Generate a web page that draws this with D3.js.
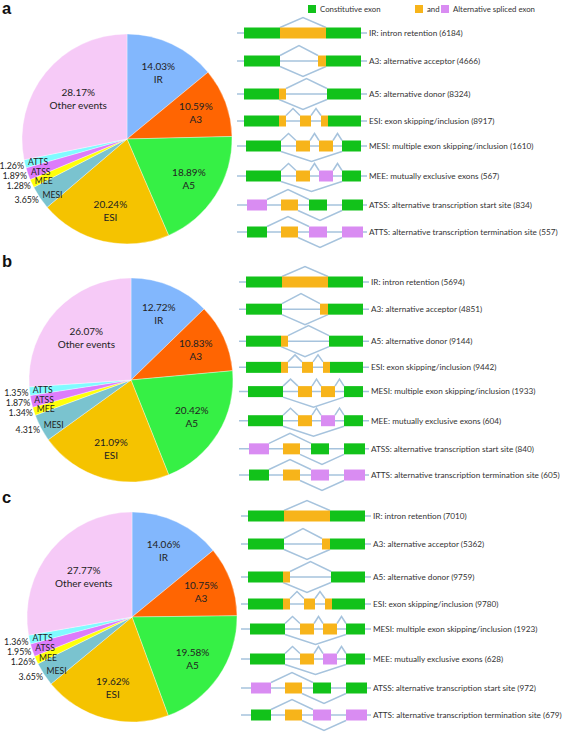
<!DOCTYPE html>
<html><head><meta charset="utf-8">
<script src="https://cdn.jsdelivr.net/npm/d3@7"></script>
<style>html,body{margin:0;padding:0;background:#fff;}svg{display:block;}</style>
</head><body>
<svg id="chart" width="567" height="734"></svg>
<script>
// ---- data ----
const events = ["IR","A3","A5","ESI","MESI","MEE","ATSS","ATTS","Other events"];
const pctA = [14.03,10.59,18.89,20.24,3.65,1.28,1.89,1.26,28.17];
const pctB = [12.72,10.83,20.42,21.09,4.31,1.34,1.87,1.35,26.07];
const pctC = [14.06,10.75,19.58,19.62,3.65,1.26,1.95,1.36,27.77];
const descriptions = ["intron retention","alternative acceptor","alternative donor","exon skipping/inclusion","multiple exon skipping/inclusion","mutually exclusive exons","alternative transcription start site","alternative transcription termination site"];
const countsA = [6184,4666,8324,8917,1610,567,834,557];
const countsB = [5694,4851,9144,9442,1933,604,840,605];
const countsC = [7010,5362,9759,9780,1923,628,972,679];
const panelLetters = ["a","b","c"];
const legendLabels = ["Constitutive exon","and","Alternative spliced exon"];

// ---- styles ----
const sliceColors = ["#82b7fd","#ff6502","#36f045","#f5c300","#7ac3cf","#ffff0a","#dd7cfb","#80fbff","#f6caf7"];
const exonColors = {C:"#12c21a", O:"#f7b41a", P:"#d98cf2"};
const railColor = "#a6c3dd";

// schematic gene models (gene-coordinate units)
const structures = {
  IR:  {exons:[[7,43,"C"],[43,89,"O"],[89,124,"C"]], up:[[43,89]], down:[]},
  A3:  {exons:[[7,43,"C"],[81,89,"O"],[89,124,"C"]], up:[[43,81]], down:[[43,89]]},
  A5:  {exons:[[7,42,"C"],[42,49,"O"],[90,124,"C"]], up:[[49,90]], down:[[42,90]]},
  ESI: {exons:[[7,42,"C"],[42,49,"O"],[63,74,"O"],[84,91,"O"],[91,124,"C"]], up:[[49,63],[74,84]], down:[]},
  MESI:{exons:[[9,44,"C"],[59,73,"O"],[82,96,"O"],[105,124,"C"]], up:[[44,59],[73,82],[96,105]], down:[[44,105]]},
  MEE: {exons:[[9,44,"C"],[59,73,"O"],[82,96,"P"],[105,124,"C"]], up:[[44,59],[73,82],[96,105]], down:[[44,105]]},
  ATSS:{exons:[[10,30,"P"],[44,61,"O"],[72,90,"C"],[105,126,"C"]], up:[[30,72]], down:[[61,105]]},
  ATTS:{exons:[[10,30,"C"],[44,61,"O"],[72,90,"P"],[105,126,"P"]], up:[[30,72]], down:[[61,105]]}
};
const rowOffsets = [0,28,61,88,113,143,172,199];

const panels = [
  {pct:pctA, counts:countsA, cx:127, cy:139, r:105, rowTop:33, rowScale:1, dx:0, letterY:14},
  {pct:pctB, counts:countsB, cx:131, cy:380, r:102, rowTop:282, rowScale:0.97, dx:2, letterY:267},
  {pct:pctC, counts:countsC, cx:132, cy:617, r:105, rowTop:516, rowScale:1, dx:4, letterY:503}
];

const svg = d3.select("#chart");
const font = "Lato, 'Open Sans', sans-serif";
const diagFont = 8.2;
const legendFont = 7.8;

panels.forEach((p, pi) => {
  const g = svg.append("g");
  g.append("text").attr("x",2).attr("y",p.letterY)
    .attr("font-family","'Liberation Sans', Arial, sans-serif").attr("font-weight","bold")
    .attr("font-size",16.5).attr("fill","#111").text(panelLetters[pi]);

  // pie
  const pie = d3.pie().sort(null).value(d => d)(p.pct);
  const arc = d3.arc().innerRadius(0).outerRadius(p.r);
  const pg = g.append("g").attr("transform",`translate(${p.cx},${p.cy})`);
  pg.selectAll("path").data(pie).join("path")
    .attr("d",arc).attr("fill",(d,i)=>sliceColors[i])
    .attr("stroke","#ffffff").attr("stroke-width",0.5).attr("stroke-opacity",0.7);

  pie.forEach((d,i) => {
    const mid = (d.startAngle + d.endAngle)/2;
    const sx = Math.sin(mid), sy = -Math.cos(mid);
    const label = events[i];
    const pctText = d3.format(".2f")(d.data) + "%";
    if (d.data >= 5) {
      const k = label === "Other events" ? 0.6 : 0.7;
      const x = sx*k*p.r, y = sy*k*p.r;
      pg.append("text").attr("x",x).attr("y",y-6.5).attr("dy","0.35em")
        .attr("text-anchor","middle").attr("font-family",font).attr("font-size",10)
        .attr("fill","#222").text(pctText);
      pg.append("text").attr("x",x).attr("y",y+6.5).attr("dy","0.35em")
        .attr("text-anchor","middle").attr("font-family",font).attr("font-size",10)
        .attr("fill","#222").text(label);
    } else {
      pg.append("text").attr("x",sx*0.97*p.r).attr("y",sy*0.97*p.r-1).attr("dy","0.35em")
        .attr("text-anchor","start").attr("font-family",font).attr("font-size",8.6)
        .attr("fill","#222").text(label);
      pg.append("text").attr("x",sx*1.0*p.r-1).attr("y",sy*1.02*p.r+1.5).attr("dy","0.35em")
        .attr("text-anchor","end").attr("font-family",font).attr("font-size",8.8)
        .attr("fill","#222").text(pctText);
    }
  });

  // diagrams
  const xs = d3.scaleLinear().domain([0,130]).range([237+p.dx, 367+p.dx]);
  const eh = 11;
  events.slice(0,8).forEach((ev,ri) => {
    const s = structures[ev];
    const cy = p.rowTop + rowOffsets[ri]*p.rowScale;
    const rg = g.append("g");
    rg.append("line").attr("x1",xs(0)).attr("x2",xs(130)).attr("y1",cy).attr("y2",cy)
      .attr("stroke",railColor).attr("stroke-width",1.5);
    const arcH = span => span < 20 ? 7 : 10;
    s.up.forEach(([a,b]) => {
      const y0 = cy - eh/2;
      rg.append("polyline")
        .attr("points",`${xs(a)},${y0} ${xs((a+b)/2)},${y0-arcH(b-a)} ${xs(b)},${y0}`)
        .attr("fill","none").attr("stroke",railColor).attr("stroke-width",1.5);
    });
    s.down.forEach(([a,b]) => {
      const y0 = cy + eh/2;
      rg.append("polyline")
        .attr("points",`${xs(a)},${y0} ${xs((a+b)/2)},${y0+arcH(b-a)} ${xs(b)},${y0}`)
        .attr("fill","none").attr("stroke",railColor).attr("stroke-width",1.5);
    });
    rg.selectAll("rect").data(s.exons).join("rect")
      .attr("x",d=>xs(d[0])).attr("width",d=>xs(d[1])-xs(d[0]))
      .attr("y",cy-eh/2).attr("height",eh).attr("fill",d=>exonColors[d[2]]);
    rg.append("text").attr("x",xs(130)+2).attr("y",cy).attr("dy","0.35em")
      .attr("font-family",font).attr("font-size",diagFont).attr("fill","#333")
      .text(`${ev}: ${descriptions[ri]} (${p.counts[ri]})`);
  });
});

// legend (top)
const lg = svg.append("g");
const legendItems = [[308,"C",0],[415,"O",1],[441,"P",2]];
legendItems.forEach(([x,c,li]) => {
  lg.append("rect").attr("x",x).attr("y",5).attr("width",8).attr("height",8).attr("fill",exonColors[c]);
  lg.append("text").attr("x",x+12).attr("y",9).attr("dy","0.35em")
    .attr("font-family",font).attr("font-size",legendFont).attr("fill","#333").text(legendLabels[li]);
});
</script>
</body></html>
